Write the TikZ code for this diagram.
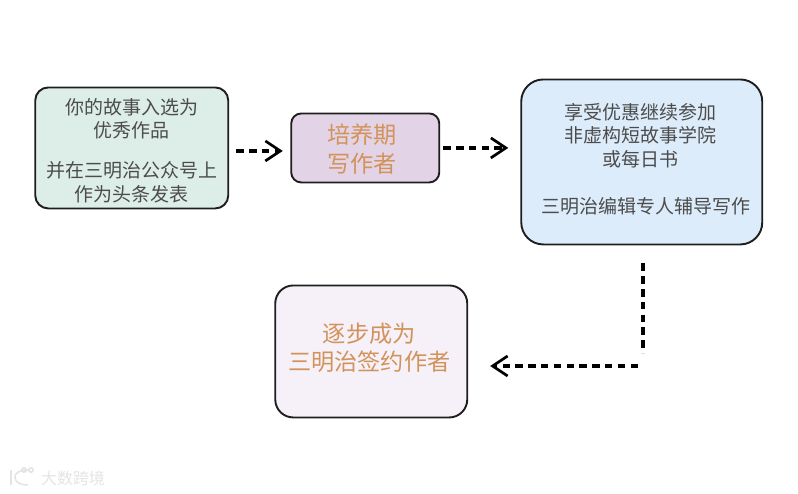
\documentclass[tikz,border=0pt]{standalone}
\usepackage{fontspec}
\setmainfont{Noto Sans CJK SC}
\usetikzlibrary{arrows.meta,calc}
\definecolor{inkgray}{HTML}{4C4C4C}
\definecolor{orangetext}{HTML}{D2935A}
\definecolor{boxline}{HTML}{1E1E1E}
\definecolor{greenfill}{HTML}{DDEEE9}
\definecolor{purplefill}{HTML}{E3D3E6}
\definecolor{bluefill}{HTML}{DDECFA}
\definecolor{pinkfill}{HTML}{F6F1F9}
\definecolor{markgray}{HTML}{E4E4E4}
\newcommand{\nudged}[2]{\raisebox{#1}[\height][\depth]{\begin{tabular}{@{}c@{}}#2\end{tabular}}}
\tikzset{
  x=1pt,y=1pt,
  flowbox/.style={draw=boxline,line width=1.9pt,align=center,inner sep=0pt,anchor=north west},
  gray text/.style={text=inkgray,font=\fontsize{19}{23.5}\selectfont},
  orange text/.style={text=orangetext,font=\fontsize{23.2}{28.5}\selectfont},
  flowline/.style={draw=black,line width=4.2pt,dash pattern=on 7.5pt off 5.3pt},
  flowtip/.style={-{Straight Barb[length=15pt,width=20pt,line width=2.7pt]}},
  markline/.style={draw=markgray,line width=1.6pt}
}
\begin{document}
\begin{tikzpicture}
\useasboundingbox (0,0) rectangle (798,-493);
\node[flowbox,gray text,fill=greenfill,rounded corners=13pt,minimum width=193pt,minimum height=121pt] (story) at (34.3,-86.5)
  {\nudged{-5pt}{你的故事入选为\\优秀作品\\[16.5pt]并在三明治公众号上\\作为头条发表}};
\node[flowbox,orange text,fill=purplefill,rounded corners=10pt,minimum width=148pt,minimum height=69pt] (train) at (290.3,-112.5)
  {\nudged{-4.5pt}{培养期\hspace*{6pt}\\写作者\hspace*{6pt}}};
\node[flowbox,gray text,fill=bluefill,rounded corners=22pt,minimum width=241pt,minimum height=165pt] (school) at (520.3,-78.5)
  {\nudged{0pt}{享受优惠继续参加\hspace*{2pt}\\非虚构短故事学院\hspace*{2pt}\\或每日书\hspace*{2pt}\\[24pt]\hspace*{9pt}三明治编辑专人辅导写作}};
\node[flowbox,orange text,fill=pinkfill,rounded corners=18pt,minimum width=192pt,minimum height=132pt] (sign) at (274.3,-284.5)
  {\nudged{0.5pt}{逐步成为\hspace*{4pt}\\三明治签约作者\hspace*{4pt}}};
\coordinate (bend) at (643,-366);
\draw[flowline,flowtip,shorten <=7pt,shorten >=7.5pt] ([yshift=-3pt]story.east) -- ([yshift=-3pt]story.east -| train.west);
\draw[flowline,flowtip,shorten <=3pt,shorten >=12pt] (train.east) -- (train.east -| school.west);
\draw[flowline,shorten <=18pt,shorten >=13pt] (school.south -| bend) -- (bend);
\draw[flowline,flowtip,shorten <=5pt,shorten >=22pt] (bend) -- (bend -| sign.east);
% watermark
\node[text=markgray,font=\fontsize{16}{16}\selectfont,inner sep=0pt] (mark) at (73,-478) {大数跨境};
\draw[markline] (11,-470) -- (11,-485);
\draw[markline] (29,-470) .. controls (18,-470) and (14,-474) .. (15,-478) .. controls (16,-483) and (21,-485) .. (28,-485);
\draw[markline] (24,-470) circle (2.2pt);
\draw[markline] (31,-470) circle (2.2pt);
\end{tikzpicture}
\end{document}
